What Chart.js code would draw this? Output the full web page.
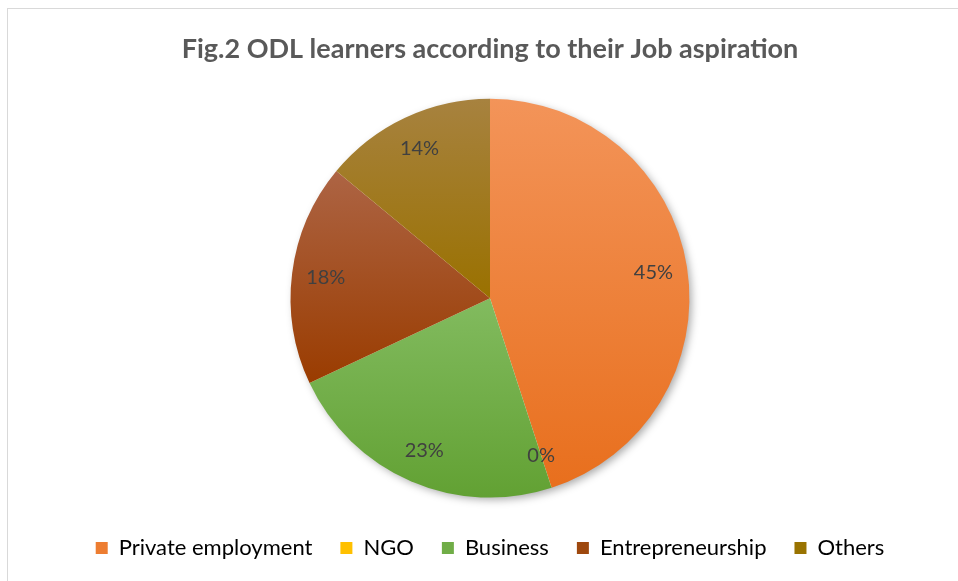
<!DOCTYPE html>
<html>
<head>
<meta charset="utf-8">
<script src="https://cdn.jsdelivr.net/npm/chart.js@4"></script>
<style>
  html, body { margin: 0; padding: 0; background: #fff; overflow: hidden; }
  #marco { position: absolute; left: 7px; top: 8px; width: 960px; height: 580px; border: 1px solid #d9d9d9; }
  #caja { position: absolute; left: 0; top: 0; width: 958px; height: 581px; }
</style>
</head>
<body>
<div id="marco"></div>
<div id="caja"><canvas id="grafico"></canvas></div>
<script>
// Datos del gráfico (porcentajes)
var categorias = ['Private employment', 'NGO', 'Business', 'Entrepreneurship', 'Others'];
var porcentajes = [45, 0, 23, 18, 14];

// colores base y degradado (arriba claro, abajo oscuro)
var coloresBase = ['#ED7D31', '#FFC000', '#70AD47', '#9E480E', '#997300'];
var coloresClaros = ['#F39459', '#FFD040', '#82BB5F', '#AD6444', '#A7823F'];
var coloresOscuros = ['#E86F1D', '#F5B800', '#62A133', '#9A3C00', '#9A7100'];

function degradado(context) {
    var chart = context.chart;
    var area = chart.chartArea;
    var i = context.dataIndex;
    if (!area) return coloresBase[i];
    var cx = (area.left + area.right) / 2;
    var cy = (area.top + area.bottom) / 2;
    var r = Math.min(area.right - area.left, area.bottom - area.top) / 2 * 0.946;
    var total = porcentajes.reduce(function (a, b) { return a + b; }, 0);
    var acum = 0;
    for (var k = 0; k < i; k++) acum += porcentajes[k];
    var a0 = -Math.PI / 2 + acum / total * 2 * Math.PI;
    var a1 = a0 + porcentajes[i] / total * 2 * Math.PI;
    var ymin = cy, ymax = cy;
    for (var t = 0; t <= 60; t++) {
        var y = cy + r * Math.sin(a0 + (a1 - a0) * t / 60);
        if (y < ymin) ymin = y;
        if (y > ymax) ymax = y;
    }
    if (ymax - ymin < 1) ymax = ymin + 1;
    var g = chart.ctx.createLinearGradient(0, ymin, 0, ymax);
    g.addColorStop(0, coloresClaros[i]);
    g.addColorStop(1, coloresOscuros[i]);
    return g;
}

// sombra bajo el pastel
var sombra = {
    id: 'sombra',
    beforeDatasetsDraw: function (chart) {
        var arco = chart.getDatasetMeta(0).data[0];
        if (!arco) return;
        var p = arco.getProps(['x', 'y', 'outerRadius'], true);
        var ctx = chart.ctx;
        ctx.save();
        ctx.shadowColor = 'rgba(0,0,0,0.35)';
        ctx.shadowBlur = 9;
        ctx.shadowOffsetX = 3;
        ctx.shadowOffsetY = 3;
        ctx.fillStyle = '#ffffff';
        ctx.beginPath();
        ctx.arc(p.x, p.y, p.outerRadius - 1, 0, Math.PI * 2);
        ctx.fill();
        ctx.restore();
    }
};

// etiquetas de porcentaje dentro de cada porción
var etiquetas = {
    id: 'etiquetas',
    afterDatasetsDraw: function (chart) {
        var ctx = chart.ctx;
        var meta = chart.getDatasetMeta(0);
        ctx.save();
        ctx.font = '20px Lato';
        ctx.fillStyle = '#404040';
        ctx.textAlign = 'center';
        ctx.textBaseline = 'middle';
        meta.data.forEach(function (arco, i) {
            var p = arco.getProps(['x', 'y', 'startAngle', 'endAngle', 'outerRadius'], true);
            var medio = (p.startAngle + p.endAngle) / 2;
            var rr = p.outerRadius * 0.83;
            ctx.fillText(porcentajes[i] + '%', p.x + rr * Math.cos(medio), p.y + rr * Math.sin(medio));
        });
        ctx.restore();
    }
};

var ctx = document.getElementById('grafico').getContext('2d');
new Chart(ctx, {
    type: 'pie',
    data: {
        labels: categorias,
        datasets: [{
            data: porcentajes,
            backgroundColor: degradado,
            borderWidth: 0,
            radius: '94.6%'
        }]
    },
    options: {
        responsive: true,
        maintainAspectRatio: false,
        animation: false,
        layout: { padding: { left: 22, right: 0, top: 0, bottom: 12 } },
        plugins: {
            title: {
                display: true,
                text: 'Fig.2 ODL learners according to their Job aspiration',
                color: '#595959',
                font: { family: 'Lato', size: 27, weight: 'bold' },
                padding: { top: 33, bottom: 22 }
            },
            legend: {
                position: 'bottom',
                labels: {
                    color: '#595959',
                    font: { family: 'Lato', size: 22 },
                    boxWidth: 12,
                    boxHeight: 12,
                    padding: 28,
                    generateLabels: function (chart) {
                        return categorias.map(function (c, i) {
                            return { text: c, fillStyle: coloresBase[i], strokeStyle: coloresBase[i], lineWidth: 0, index: i, hidden: false };
                        });
                    }
                }
            },
            tooltip: { enabled: false }
        }
    },
    plugins: [sombra, etiquetas]
});
</script>
</body>
</html>
